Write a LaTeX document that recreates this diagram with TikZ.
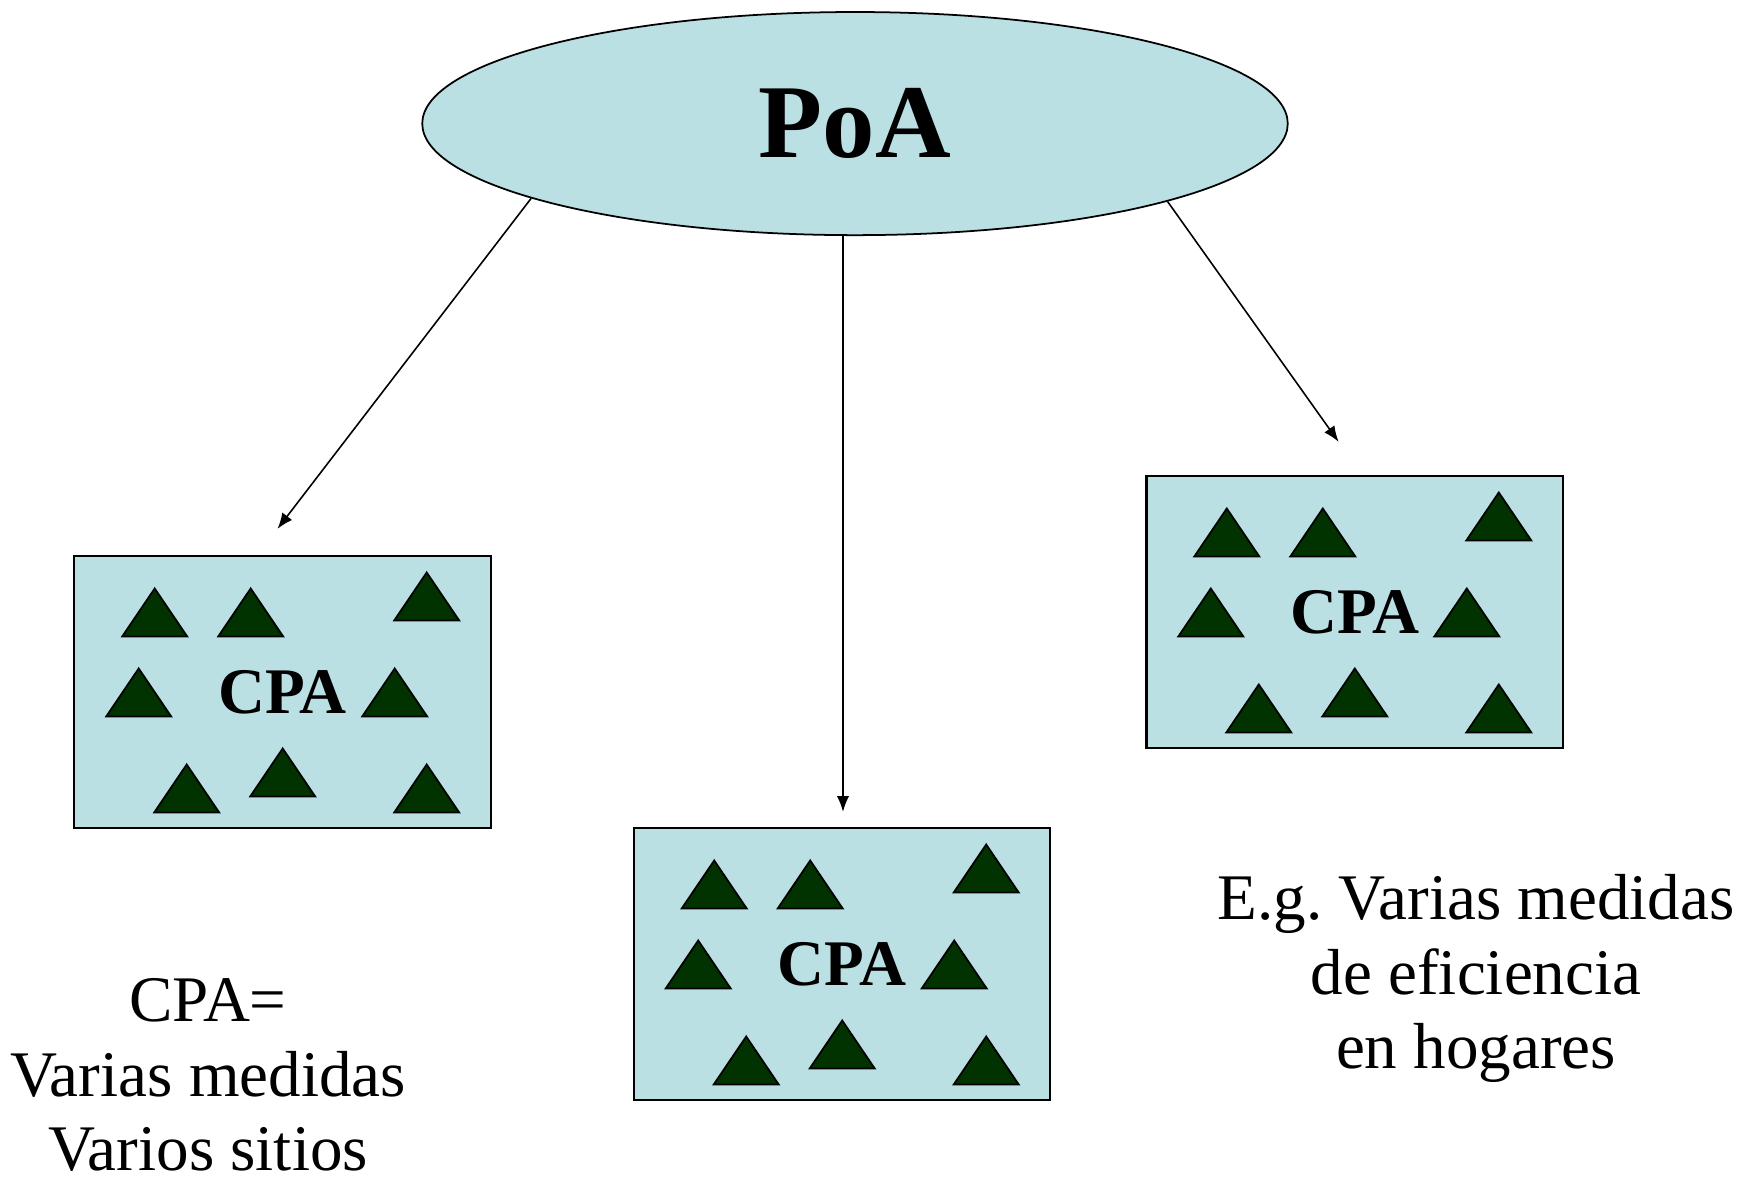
\documentclass[tikz,border=0pt]{standalone}
\usepackage{fontspec}
\setmainfont{Liberation Serif}
\usepackage{xcolor}
\usetikzlibrary{shapes,arrows.meta,positioning,calc}
\definecolor{paleblue}{RGB}{186,224,227}
\definecolor{treegreen}{RGB}{0,51,0}

\begin{document}
\begin{tikzpicture}[x=0.01cm, y=-0.01cm,
				cpabox/.style={rectangle, draw, fill=paleblue, line width=0.6pt, minimum width=4.16cm, minimum height=2.72cm, font=\fontsize{18.5}{22}\selectfont\bfseries},
				tree/.style={fill=treegreen, draw=black, line width=0.5pt, line join=miter},
				link/.style={-{Latex[length=4.5pt,width=3.5pt]}, line width=0.45pt},
				note/.style={align=center, anchor=base, font=\fontsize{18.5}{21.3}\selectfont}]
				\useasboundingbox (0,0) rectangle (1739,1177);
				\node[ellipse, draw, fill=paleblue, line width=0.5pt, inner sep=0pt, minimum width=8.65cm, minimum height=2.23cm, font=\fontsize{29.8}{36}\selectfont\bfseries] (poa) at (855,123.6) {PoA};
				\node[cpabox] (cpaa) at (282.5,692) {CPA};
				\node[cpabox] (cpab) at (842,964) {CPA};
				\node[cpabox] (cpac) at (1354.6,612) {CPA};
				
				% triangles, same pattern in every box
				\foreach \b in {cpaa,cpab,cpac}
				\foreach \dx/\dy in {-127.8/-55.5, -31.8/-55.5, 144.2/-71.5, -143.8/24.5, 112.2/24.5, -95.8/120.5, 0.2/104.5, 144.2/120.5}
				\draw[tree] ($(\b)+(\dx,\dy)$) ++(-32.5,0) -- ++(65,0) -- ++(-32.5,-48) -- cycle;
				
				\coordinate (tipa) at ($(cpaa.north)+(-5,-26)$);
				\coordinate (tipb) at ($(cpab.north)+(1,-15)$);
				\coordinate (tipc) at ($(cpac.north)+(-16,-33)$);
				\draw[link] (poa.193.4) -- (tipa);
				\draw[link] (poa.south -| tipb) -- (tipb);
				\draw[link] (poa.346.2) -- (tipc);
				
				% anchor=base sits on the last line here
				\node[note] (defn) at (208,1171) {CPA=\\Varias medidas\\Varios sitios};
				\node[note] (example) at (1476,1069) {E.g.\ Varias medidas\\de eficiencia\\en hogares};
			\end{tikzpicture}
\end{document}
